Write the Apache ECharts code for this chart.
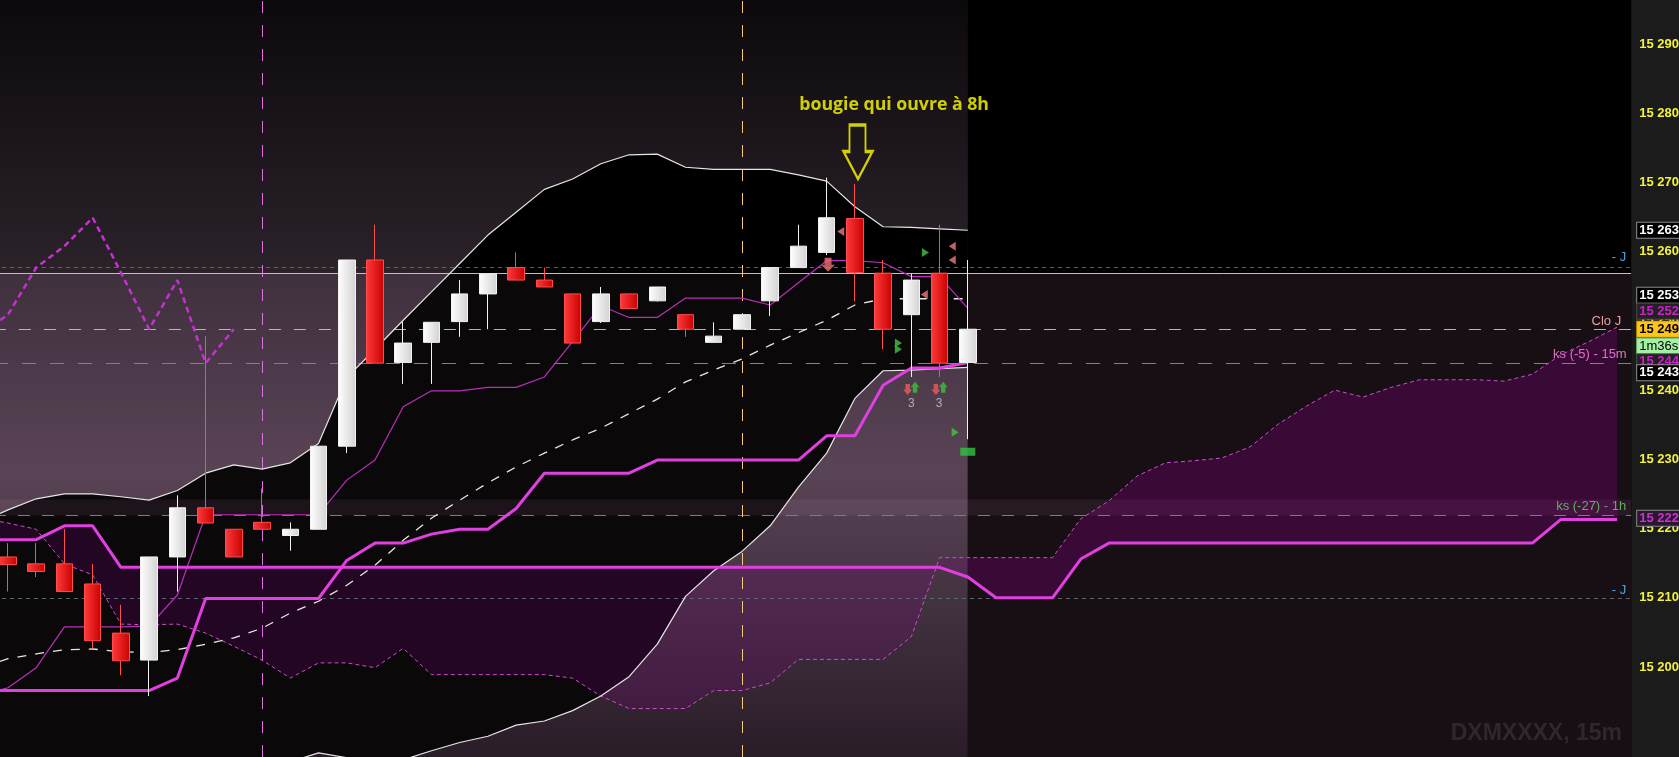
<!DOCTYPE html>
<html>
<head>
<meta charset="utf-8">
<script src="https://cdn.jsdelivr.net/npm/echarts@6.0.0/dist/echarts.min.js"></script>
<style>
html,body{margin:0;padding:0;background:#1b1b1b;overflow:hidden;}
#chart{width:1679px;height:757px;}
</style>
</head>
<body>
<div id="chart"></div>
<script>
// ================= DATA =================
const barCount = 58; // 35 real bars + projected cloud
const categories = Array.from({length: barCount}, (_, i) => 'b' + i);
const tickValues = [15200, 15210, 15220, 15230, 15240, 15250, 15260, 15270, 15280, 15290];

const opens  = [15215.9,15214.9,15214.9,15212.0,15204.9,15201.0,15215.9,15223.0,15219.9,15220.9,15219.0,15219.9,15231.9,15258.8,15244.0,15246.9,15249.9,15253.9,15257.7,15255.9,15253.9,15249.9,15253.9,15252.9,15250.9,15246.9,15248.8,15252.9,15257.7,15259.9,15264.8,15256.9,15250.9,15256.9,15244.0];
const closes = [15214.8,15213.8,15210.9,15203.8,15200.9,15215.9,15223.0,15220.8,15215.9,15219.9,15219.9,15231.9,15258.8,15243.9,15246.8,15249.8,15253.9,15256.8,15255.9,15254.9,15246.8,15253.9,15251.8,15254.9,15248.8,15247.8,15250.9,15257.7,15260.8,15264.9,15257.0,15248.8,15255.9,15243.9,15248.8];
const lows   = [15210.9,15213.0,15210.9,15202.7,15198.8,15195.8,15210.9,15220.8,15215.9,15219.9,15216.8,15219.9,15230.9,15243.9,15240.9,15240.9,15247.7,15248.8,15255.9,15254.9,15246.8,15249.7,15251.8,15252.8,15247.7,15246.8,15248.8,15250.7,15257.7,15259.5,15252.8,15245.9,15241.9,15241.9,15232.9];
const highs  = [15217.9,15217.9,15219.9,15214.9,15209.0,15215.9,15224.8,15247.8,15219.9,15225.8,15220.9,15231.9,15258.8,15263.9,15249.9,15249.8,15255.9,15256.8,15259.9,15257.7,15253.9,15254.9,15253.9,15254.9,15250.9,15249.8,15250.9,15257.7,15263.9,15270.7,15269.8,15258.8,15256.8,15263.9,15258.8];

const bbUpper = [15222.7,15224.3,15225.0,15225.0,15224.6,15224.1,15225.5,15228.0,15229.2,15228.6,15229.5,15232.3,15241.8,15245.9,15250.1,15254.2,15258.3,15262.4,15265.7,15269.0,15270.5,15272.7,15274.0,15274.1,15272.2,15271.9,15271.9,15271.9,15271.1,15270.2,15266.5,15263.6,15263.5,15263.3,15263.1];
const bbLower = [15185.5,15185.0,15184.8,15184.5,15184.0,15183.8,15184.0,15184.5,15185.0,15185.6,15186.3,15187.6,15186.9,15186.6,15186.6,15187.9,15189.1,15190.0,15191.6,15192.2,15193.7,15195.8,15198.6,15203.3,15210.2,15213.9,15216.7,15220.4,15226.0,15230.9,15238.8,15242.8,15242.9,15243.1,15243.3];
const maMid   = [15201.2,15201.9,15202.5,15202.6,15202.2,15202.1,15202.5,15203.3,15204.2,15205.6,15207.8,15209.5,15211.8,15214.7,15218.3,15221.5,15224.1,15226.6,15228.9,15230.9,15232.8,15234.5,15236.6,15238.7,15241.2,15242.9,15244.5,15246.5,15248.3,15250.1,15252.3,15253.2,15253.2,15253.2,15253.2];
const tenkan  = [15197.0,15199.9,15205.8,15205.8,15205.8,15205.9,15210.4,15222.0,15222.0,15222.0,15222.0,15222.0,15227.0,15229.9,15237.6,15239.9,15239.9,15240.4,15240.4,15241.9,15247.0,15252.2,15250.5,15250.5,15253.3,15253.3,15253.3,15252.3,15255.5,15258.7,15258.7,15258.4,15256.4,15256.4,15251.8];
const kijun   = [15196.6,15196.6,15196.6,15196.6,15196.6,15196.6,15198.4,15209.9,15209.9,15209.9,15209.9,15209.9,15215.4,15217.9,15217.9,15219.2,15219.9,15219.9,15222.9,15228.0,15228.0,15228.0,15228.0,15229.9,15229.9,15229.9,15229.9,15229.9,15229.9,15233.4,15233.4,15240.7,15243.2,15243.2,15244.0];
const senkouB = [15218.4,15218.4,15220.4,15220.4,15214.4,15214.4,15214.4,15214.4,15214.4,15214.4,15214.4,15214.4,15214.4,15214.4,15214.4,15214.4,15214.4,15214.4,15214.4,15214.4,15214.4,15214.4,15214.4,15214.4,15214.4,15214.4,15214.4,15214.4,15214.4,15214.4,15214.4,15214.4,15214.4,15214.4,15213.0,15210.0,15210.0,15210.0,15215.6,15217.9,15217.9,15217.9,15217.9,15217.9,15217.9,15217.9,15217.9,15217.9,15217.9,15217.9,15217.9,15217.9,15217.9,15217.9,15217.9,15221.3,15221.3,15221.3];
const senkouA = [15220.8,15219.9,15214.9,15213.3,15206.2,15206.1,15206.2,15204.9,15203.0,15201.0,15198.4,15200.6,15200.6,15199.9,15202.7,15198.9,15198.9,15198.9,15198.9,15198.9,15198.4,15195.8,15194.0,15194.0,15194.0,15196.6,15196.6,15197.7,15201.1,15201.1,15201.1,15201.1,15204.4,15215.8,15215.8,15215.8,15215.8,15215.8,15221.4,15224.0,15227.6,15229.5,15229.8,15230.2,15231.8,15235.1,15237.7,15240.0,15239.0,15240.4,15241.5,15241.5,15241.5,15241.3,15242.3,15245.1,15247.0,15249.1];
const chikou  = [15250.9,15257.7,15260.8,15264.9,15257.0,15248.8,15255.9,15243.9,15248.8];

// values read at the very left edge of the plot (x = 0 px), where each line enters the picture
const leftEdgeX = -0.2834;
const edgeValues = {bbUpper: 15222.2, bbLower: 15185.6, maMid: 15200.8, tenkan: 15196.7, kijun: 15196.6, senkouB: 15218.4, senkouA: 15221.0, chikou: 15250.1};

const levelJUpper = 15257.7, levelPink = 15256.9, levelCloJ = 15248.8, levelKs5 = 15243.9, levelKs27 = 15221.9, levelJLower = 15210.0;
const ksBandTop = 15224.2;
const sessionBars = [9, 26];
const lastBar = 34;

const boxValues = [15263.1, 15253.7, 15251.4, 15248.8, 15246.3, 15244.1, 15242.5, 15221.5];
const boxTexts  = ['15 263', '15 253', '15 252', '15 249', '1m36s', '15 244', '15 243', '15 222'];

const pinkLeftMarks  = [[29.5, 15262.9], [32.46, 15253.8], [33.45, 15260.8], [33.45, 15258.8]];
const greenRightMarks = [[32.5, 15259.9], [31.54, 15246.8], [31.54, 15245.9], [33.55, 15233.9]];
const pinkDownMarks  = [[29.05, 15258.1]];
const redDownMarks   = [[31.87, 15240.1], [32.87, 15240.1]];
const greenUpMarks   = [[32.13, 15240.4], [33.13, 15240.4]];
const countMarks     = [[32.0, 15238.1], [32.98, 15238.1]];
const greenRectMarks = [[34.0, 15231.1]];
const noteArrow = [[30.11, 15274.4]];
const noteTextPos = [[31.39, 15281.2]];
const noteText = 'bougie qui ouvre à 8h';
const watermark = 'DXMXXXX, 15m';

const yMin = 15187.0, yMax = 15296.36;

// ================= CHART =================
const chart = echarts.init(document.getElementById('chart'), null, {renderer: 'canvas', width: 1679, height: 757});
const FONT = '"Liberation Sans", Arial, sans-serif';
function fmt(v) { const s = String(Math.round(v)); return s.slice(0, s.length - 3) + ' ' + s.slice(-3); }
const LG = (x2, y2, stops) => new echarts.graphic.LinearGradient(0, 0, x2, y2, stops.map(s => ({offset: s[0], color: s[1]})));

const candleData = opens.map((o, i) => [o, closes[i], lows[i], highs[i]]);
const xy = (arr, edge) => (edge === undefined ? [] : [[leftEdgeX, edge]]).concat(arr.map((v, i) => [i, v]));

const P = {
  bbUpper: xy(bbUpper, edgeValues.bbUpper), bbLower: xy(bbLower, edgeValues.bbLower),
  maMid: xy(maMid, edgeValues.maMid), tenkan: xy(tenkan, edgeValues.tenkan), kijun: xy(kijun, edgeValues.kijun),
  senkouB: xy(senkouB, edgeValues.senkouB), senkouA: xy(senkouA, edgeValues.senkouA), chikou: xy(chikou, edgeValues.chikou)
};
// polygon between two polylines (upper forward, lower backward), optional x-range filter
function bandSeries(top, bottom, fill, z, xFrom, xTo) {
  const inRange = p => p[0] >= xFrom && p[0] <= xTo;
  const t = top.filter(inRange), b = bottom.filter(inRange);
  return {
    type: 'custom', xAxisIndex: 1, yAxisIndex: 0, silent: true, z: z, clip: false, data: [0],
    renderItem: (params, api) => {
      const pts = t.map(p => api.coord(p)).concat(b.slice().reverse().map(p => api.coord(p)));
      return {type: 'polygon', shape: {points: pts}, style: {fill: fill, stroke: null, lineWidth: 0}};
    }
  };
}

const baseLine = {type: 'line', symbol: 'none', silent: true, xAxisIndex: 1, yAxisIndex: 0, animation: false};

function levelLine(v, color, dash, text, labelColor, dist) {
  return {
    yAxis: v,
    lineStyle: {color: color, type: dash, width: 1},
    label: text ? {show: true, position: 'insideEndTop', formatter: text, color: labelColor, fontSize: 13, fontFamily: FONT, distance: dist} : {show: false}
  };
}
const boxStyles = [
  {color: '#ffffff', backgroundColor: '#000000', borderColor: '#8a8a8a'},
  {color: '#ffffff', backgroundColor: '#000000', borderColor: '#8a8a8a'},
  {color: '#cc22cc', backgroundColor: '#222222', borderColor: '#4a4a4a'},
  {color: '#000000', backgroundColor: '#ffc41c', borderColor: '#d09a00'},
  {color: '#000000', backgroundColor: '#a4f0a4', borderColor: '#7ccc7c', fontWeight: 'normal'},
  {color: '#cc22cc', backgroundColor: '#222222', borderColor: '#4a4a4a'},
  {color: '#ffffff', backgroundColor: '#000000', borderColor: '#8a8a8a'},
  {color: '#d030d0', backgroundColor: '#2a1830', borderColor: '#8a8a8a'}
];

const option = {
  backgroundColor: '#1b1b1b',
  animation: false,
  grid: {left: -6.115, right: 47.8, top: 0, bottom: 0, show: true, backgroundColor: '#000000', borderWidth: 0, containLabel: false, outerBoundsMode: 'none'},
  xAxis: [
    {type: 'category', data: categories, boundaryGap: true, show: false},
    {type: 'value', min: -0.5, max: 57.5, show: false}
  ],
  yAxis: {
    type: 'value', position: 'right', min: yMin, max: yMax,
    splitLine: {show: false},
    axisLine: {show: true, lineStyle: {color: '#8c8c8c', width: 1}},
    axisTick: {show: true, inside: false, length: 4, lineStyle: {color: '#8c8c8c'}, customValues: tickValues},
    axisLabel: {show: true, customValues: tickValues, color: '#f2f23c', fontWeight: 'bold', fontSize: 13, fontFamily: FONT, margin: 8, formatter: v => fmt(v)}
  },
  graphic: [{
    type: 'text', x: 1622, y: 734, z: 20, silent: true,
    style: {text: watermark, fill: '#2e272c', font: 'bold 23px "Liberation Sans", Arial, sans-serif', align: 'right', verticalAlign: 'middle'}
  }],
  series: [
    // ---- background regions ----
    {
      type: 'scatter', xAxisIndex: 1, yAxisIndex: 0, data: [], silent: true, clip: false, z: 1,
      markArea: {
        silent: true, z: 1,
        data: [
          [{xAxis: -0.5, yAxis: yMax, itemStyle: {color: LG(0, 1, [[0, '#0c090c'], [0.36, '#2b222a'], [0.3607, '#372a36'], [0.62, '#523f4f'], [1, '#20161f']])}}, {xAxis: lastBar, yAxis: yMin}],
          [{xAxis: lastBar, yAxis: levelPink, itemStyle: {color: '#0e080b'}}, {xAxis: 57.5, yAxis: yMin}]
        ]
      }
    },
    // ---- Bollinger fill ----
    bandSeries(P.bbUpper, P.bbLower, '#000000', 2, -1, 100),
    // ---- zone overlays ----
    {
      type: 'scatter', xAxisIndex: 1, yAxisIndex: 0, data: [], silent: true, clip: false, z: 3,
      markArea: {
        silent: true, z: 3,
        data: [
          [{xAxis: -0.5, yAxis: levelPink, itemStyle: {color: 'rgba(255,190,235,0.045)'}}, {xAxis: 57.5, yAxis: yMin}],
          [{xAxis: -0.5, yAxis: ksBandTop, itemStyle: {color: 'rgba(255,190,235,0.07)'}}, {xAxis: 57.5, yAxis: levelKs27}]
        ]
      }
    },
    // ---- Ichimoku cloud fill (past part and projected part) ----
    bandSeries(P.senkouB, P.senkouA, 'rgba(130,0,135,0.2)', 4, -1, lastBar),
    bandSeries(P.senkouB, P.senkouA, 'rgba(140,0,140,0.3)', 4, lastBar, 100),
    // ---- level lines ----
    {
      type: 'scatter', xAxisIndex: 1, yAxisIndex: 0, data: [], silent: true, clip: false, z: 5,
      markLine: {
        silent: true, z: 5, symbol: ['none', 'none'], animation: false, label: {show: false},
        data: [
          levelLine(levelJUpper, '#5b6673', [4, 4], '- J', '#4ea3e6', [5, 4]),
          levelLine(levelPink, '#f4a2cf', 'solid', null),
          levelLine(levelCloJ, '#ec9f9f', [12, 13], 'Clo J', '#e9a0a0', [10, 1.5]),
          levelLine(levelKs5, '#a07090', [14, 14], 'ks (-5) - 15m', '#e070c8', [4.5, 2.5]),
          levelLine(levelKs27, '#6e8a60', [12, 12], 'ks (-27) - 1h', '#5fae5f', [5, 2]),
          levelLine(levelJLower, '#5b6673', [4, 4], '- J', '#4ea3e6', [5, 1]),
          {xAxis: sessionBars[0], lineStyle: {color: '#e070e0', type: [12, 12], width: 1}, label: {show: false}},
          {xAxis: sessionBars[1], lineStyle: {color: '#f5c97a', type: [12, 12], width: 1}, label: {show: false}}
        ]
      }
    },
    // ---- indicator lines ----
    Object.assign({}, baseLine, {name: 'senkouA', data: P.senkouA, lineStyle: {color: '#c850c8', width: 1, type: [4, 3]}, z: 6}),
    Object.assign({}, baseLine, {name: 'bbUpper', data: P.bbUpper, lineStyle: {color: '#e6e6e6', width: 1.2}, z: 6}),
    Object.assign({}, baseLine, {name: 'bbLower', data: P.bbLower, lineStyle: {color: '#e6e6e6', width: 1.2}, z: 6}),
    Object.assign({}, baseLine, {name: 'ma', data: P.maMid, lineStyle: {color: '#e8e8e8', width: 1.3, type: [9, 9]}, z: 6}),
    Object.assign({}, baseLine, {name: 'tenkan', data: P.tenkan, lineStyle: {color: '#b830b8', width: 1.2}, z: 6}),
    Object.assign({}, baseLine, {name: 'kijun', data: P.kijun, lineStyle: {color: '#e040e0', width: 3}, z: 6}),
    Object.assign({}, baseLine, {name: 'senkouB', data: P.senkouB, lineStyle: {color: '#e040e0', width: 3}, z: 6}),
    Object.assign({}, baseLine, {name: 'chikou', data: P.chikou, lineStyle: {color: '#c530d0', width: 2.5, type: [6, 4]}, z: 6}),
    // ---- candles ----
    {
      type: 'candlestick', name: 'price', xAxisIndex: 0, yAxisIndex: 0, data: candleData, barWidth: 17, silent: true, z: 7,
      itemStyle: {
        color: LG(1, 0, [[0, '#ffffff'], [1, '#d2d2d2']]),
        color0: LG(1, 0, [[0, '#ff3b3b'], [1, '#c80000']]),
        borderColor: '#f2f2f2', borderColor0: '#ff4d4d', borderWidth: 1
      }
    },
    // ---- signal markers ----
    {type: 'scatter', xAxisIndex: 1, data: pinkLeftMarks, symbol: 'triangle', symbolRotate: 90, symbolSize: [9, 7], itemStyle: {color: '#f07c7c'}, silent: true, z: 8},
    {type: 'scatter', xAxisIndex: 1, data: greenRightMarks, symbol: 'triangle', symbolRotate: -90, symbolSize: [9, 7], itemStyle: {color: '#43c443'}, silent: true, z: 8},
    {type: 'scatter', xAxisIndex: 1, data: pinkDownMarks, symbol: 'path://M3,0H9V6H12L6,12L0,6H3Z', symbolSize: [14, 14], itemStyle: {color: '#f07070'}, silent: true, z: 8},
    {type: 'scatter', xAxisIndex: 1, data: redDownMarks, symbol: 'path://M3,0H9V6H12L6,12L0,6H3Z', symbolSize: [9, 11], itemStyle: {color: '#f05a5a'}, silent: true, z: 8},
    {type: 'scatter', xAxisIndex: 1, data: greenUpMarks, symbol: 'path://M6,0L12,6H9V12H3V6H0Z', symbolSize: [9, 11], itemStyle: {color: '#3fbf3f'}, silent: true, z: 8},
    {type: 'scatter', xAxisIndex: 1, data: countMarks, symbolSize: 1, itemStyle: {color: 'rgba(0,0,0,0)'}, silent: true, z: 8,
      label: {show: true, position: 'inside', formatter: '3', color: '#c8c8c8', fontSize: 12, fontFamily: FONT}},
    {type: 'scatter', xAxisIndex: 1, data: greenRectMarks, symbol: 'rect', symbolSize: [15, 8], itemStyle: {color: '#2fc43f'}, silent: true, z: 8},
    {type: 'scatter', xAxisIndex: 1, data: noteArrow, symbol: 'path://M6,0H22V26.5H29L14.5,54L0,26.5H6Z', symbolSize: [29, 54], silent: true, z: 8,
      itemStyle: {color: 'rgba(0,0,0,0)', borderColor: '#ffff00', borderWidth: 2.5}},
    {type: 'scatter', xAxisIndex: 1, data: noteTextPos, symbolSize: 1, itemStyle: {color: 'rgba(0,0,0,0)'}, silent: true, z: 8, clip: false,
      label: {show: true, position: 'inside', formatter: noteText, color: '#ffff00', fontSize: 17.7, fontWeight: 'bold', fontFamily: '"Open Sans", "DejaVu Sans", sans-serif'}},
    // ---- price boxes on the axis ----
    {
      type: 'scatter', xAxisIndex: 1, yAxisIndex: 0, data: [], silent: true, clip: false, z: 9,
      markLine: {
        silent: true, z: 9, symbol: ['none', 'none'], animation: false,
        data: boxValues.map((v, i) => ({
          yAxis: v,
          lineStyle: {width: 0, color: 'rgba(0,0,0,0)'},
          label: Object.assign({
            show: true, position: 'end', distance: 6, formatter: boxTexts[i],
            fontSize: 13, fontWeight: 'bold', fontFamily: FONT, lineHeight: 14,
            borderWidth: 1, padding: [1, 30, 0, 2]
          }, boxStyles[i])
        }))
      }
    }
  ]
};
chart.setOption(option);
</script>
</body>
</html>
